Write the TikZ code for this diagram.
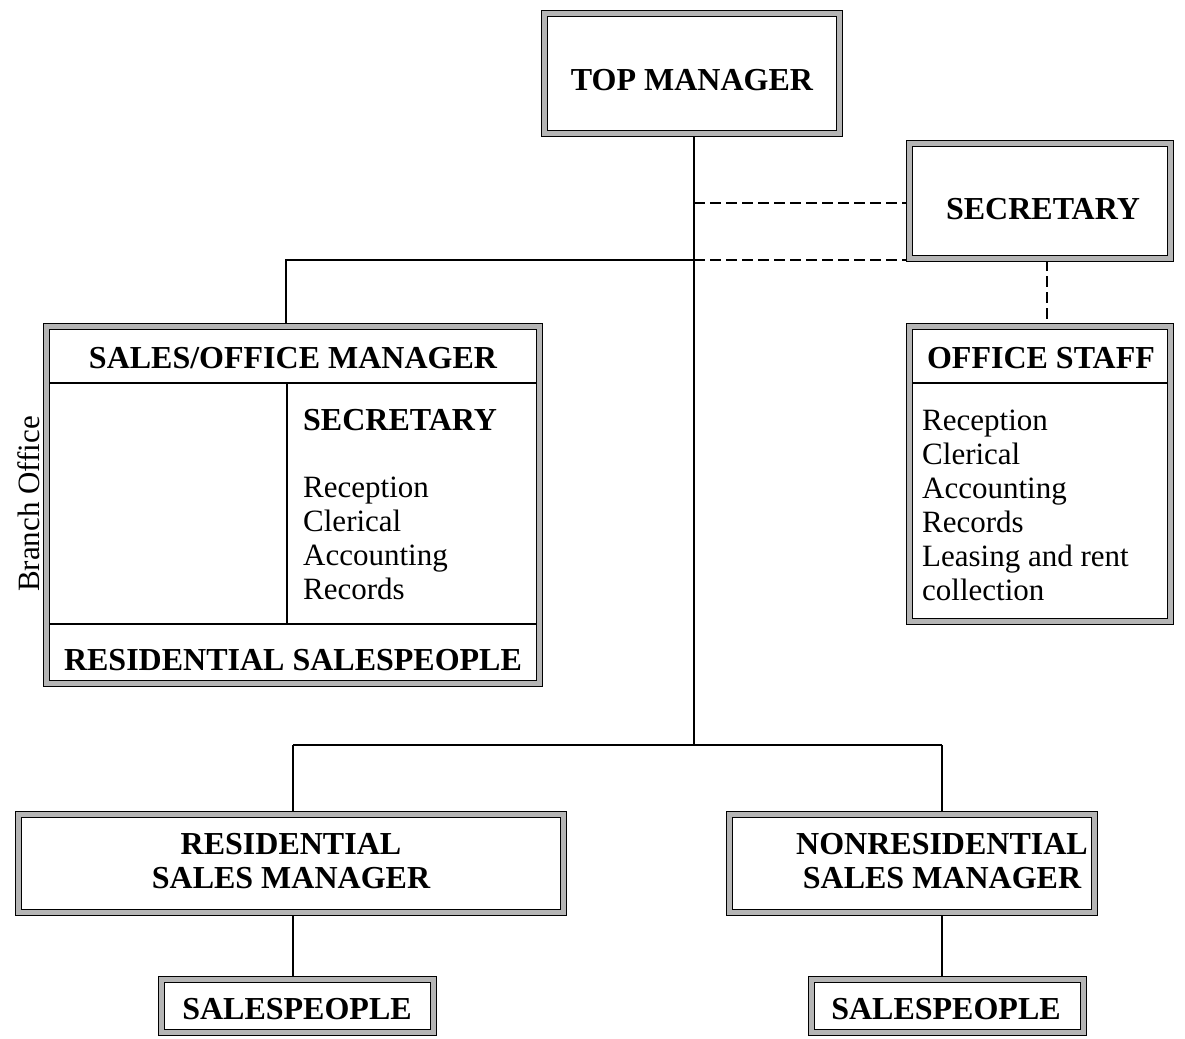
\documentclass[tikz,border=0pt]{standalone}
\usepackage{fontspec}
\setmainfont{Liberation Serif}
\usetikzlibrary{backgrounds}
\tikzset{
  frame/.style={draw=black, line width=1.2pt, double=gray!58, double distance=5pt,
                fill=white, inner sep=0pt, rectangle},
  link/.style={line width=1.5pt},
  dlink/.style={line width=1.5pt, dash pattern=on 11pt off 5pt},
  rule/.style={line width=1.2pt},
  head/.style={font=\fontsize{32}{34}\selectfont\bfseries, inner sep=0pt, anchor=base},
  item/.style={font=\fontsize{31}{34}\selectfont, inner sep=0pt, anchor=base west},
}
\begin{document}
\begin{tikzpicture}[x=1pt,y=-1pt]
\useasboundingbox (0,0) rectangle (1185,1038);

% ---- frames (outer edge inset by 3.7pt to the double line's centre) ----
\node[frame, minimum width=294.6pt, minimum height=119.6pt] (top)  at (692,73.5) {};
\node[frame, minimum width=260.6pt, minimum height=114.6pt] (sec)  at (1040,201) {};
\node[frame, minimum width=260.6pt, minimum height=294.6pt] (staff) at (1040,474) {};
\node[frame, minimum width=492.6pt, minimum height=356.6pt] (som)  at (293,505) {};
\node[frame, minimum width=544.6pt, minimum height=97.6pt]  (rsm)  at (291,863.5) {};
\node[frame, minimum width=364.6pt, minimum height=97.6pt]  (nrsm) at (912,863.5) {};
\node[frame, minimum width=271.6pt, minimum height=52.6pt]  (spl)  at (297.5,1006) {};
\node[frame, minimum width=271.6pt, minimum height=52.6pt]  (spr)  at (947.5,1006) {};

% ---- inner rules of the branch office and office staff boxes ----
\draw[rule] (50,383) -- (536,383);
\draw[rule] (50,624) -- (536,624);
\draw[rule] (287,383) -- (287,624);
\draw[rule] (913,383) -- (1167,383);

% ---- texts ----
\node[head] (ttop) at (692,91) {TOP MANAGER};
\node[head] (tsec) at (1043,219) {SECRETARY};
\node[head] (tsom) at (293,368) {SALES/OFFICE MANAGER};
\node[head, anchor=base west] (tsec2) at (303,430) {SECRETARY};
\node[head] (trsp) at (293,670) {RESIDENTIAL SALESPEOPLE};
\node[head] (tstaff) at (1041,368) {OFFICE STAFF};
\node[head] (trsm1) at (291,854) {RESIDENTIAL};
\node[head] (trsm2) at (291,888) {SALES MANAGER};
\node[head] (tnr1) at (942,854) {NONRESIDENTIAL};
\node[head] (tnr2) at (942,888) {SALES MANAGER};
\node[head] (tspl) at (297,1019) {SALESPEOPLE};
\node[head] (tspr) at (946,1019) {SALESPEOPLE};

\foreach \t [count=\i] in {Reception, Clerical, Accounting, Records}
  \node[item] (sl\i) at (303,{497+34*(\i-1)}) {\t};
\foreach \t [count=\i] in {Reception, Clerical, Accounting, Records, Leasing and rent, collection}
  \node[item] (ol\i) at (922,{430+34*(\i-1)}) {\t};

\node[font=\fontsize{31}{34}\selectfont, rotate=90, anchor=base, inner sep=0pt] (branch) at (39,504) {Branch Office};

% ---- connectors ----
\coordinate (hub) at (694,745);
\coordinate (jl)  at (293,745);
\coordinate (jr)  at (942,745);
\coordinate (mid) at (694,260);
\coordinate (bl)  at (286,260);
\coordinate (dsec) at (694,203);
\coordinate (dstaff) at (1047,260);

\begin{pgfonlayer}{background}
  \draw[link] (top.south -| hub) -- (hub);
  \draw[link] (jl) -- (jr);
  \draw[link] (jl) -- (rsm.north -| jl);
  \draw[link] (jr) -- (nrsm.north -| jr);
  \draw[link] (rsm.south -| jl) -- (spl.north -| jl);
  \draw[link] (nrsm.south -| jr) -- (spr.north -| jr);
  \draw[link] (mid) -- (bl) -- (som.north -| bl);
  \draw[dlink] (dsec) -- (sec.west |- dsec);
  \draw[dlink] (mid) -- (sec.west |- mid);
  \draw[dlink] (dstaff) -- (staff.north -| dstaff);
\end{pgfonlayer}
\end{tikzpicture}
\end{document}
